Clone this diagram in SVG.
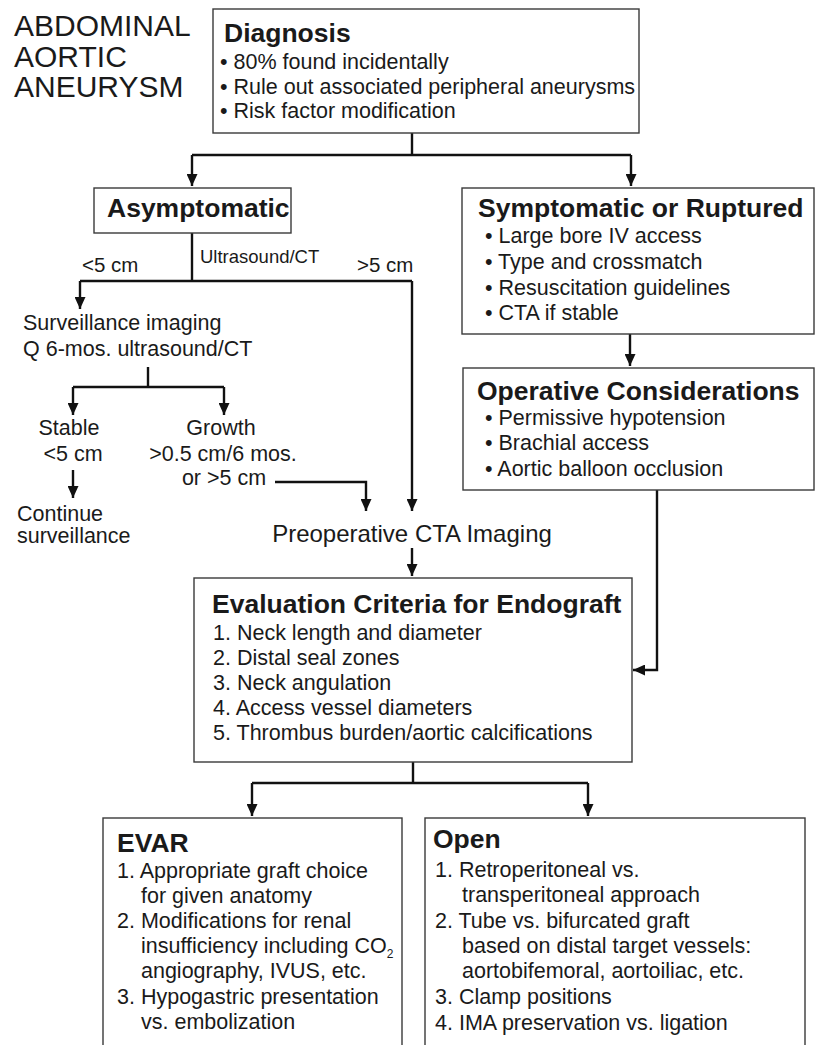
<svg xmlns="http://www.w3.org/2000/svg" width="816" height="1045" viewBox="0 0 816 1045">
  <defs>
    <marker id="arrow" markerUnits="userSpaceOnUse" markerWidth="12" markerHeight="11" viewBox="0 0 12 11" refX="12" refY="5.5" orient="auto">
      <path d="M0,0 L12,5.5 L0,11 z" fill="#111"/>
    </marker>
    <style>
      text { font-family: "Liberation Sans", Arial, Helvetica, sans-serif; fill: #1a1a1a; }
      .box { fill: #fff; stroke: #3a3a3a; stroke-width: 1.4; }
      .hd { font-weight: bold; font-size: 26.5px; }
      .tx { font-size: 21.5px; }
      .sm { font-size: 18.5px; }
      .lb { font-size: 20.5px; }
      .ttl { font-size: 30px; }
      .ln { fill: none; stroke: #111; stroke-width: 2.4; }
      .ar { fill: none; stroke: #111; stroke-width: 2.4; marker-end: url(#arrow); }
    </style>
  </defs>
  <rect width="816" height="1045" fill="#fff"/>

  <!-- heading -->
  <g id="title">
    <text class="ttl" x="14" y="36">ABDOMINAL</text>
    <text class="ttl" x="14" y="67">AORTIC</text>
    <text class="ttl" x="14" y="97">ANEURYSM</text>
  </g>

  <!-- connectors -->
  <g id="connectors">
    <!-- diagnosis split -->
    <polyline class="ln" points="412,133 412,155"/>
    <polyline class="ar" points="192,155 192,186"/>
    <polyline class="ln" points="192,155 631,155"/>
    <polyline class="ar" points="631,155 631,186"/>
    <!-- asymptomatic split -->
    <polyline class="ln" points="192,233 192,281"/>
    <polyline class="ln" points="80,281 412,281"/>
    <polyline class="ar" points="80,281 80,309"/>
    <polyline class="ar" points="412,281 412,511"/>
    <!-- surveillance split -->
    <polyline class="ln" points="148,367 148,387"/>
    <polyline class="ln" points="73,387 224,387"/>
    <polyline class="ar" points="73,387 73,415"/>
    <polyline class="ar" points="224,387 224,415"/>
    <polyline class="ar" points="73,470 73,498"/>
    <polyline class="ar" points="275,482 366,482 366,511"/>
    <!-- imaging to criteria -->
    <polyline class="ar" points="412,548 412,576"/>
    <!-- symptomatic chain -->
    <polyline class="ar" points="630,334 630,366"/>
    <polyline class="ar" points="657,490 657,670 633,670"/>
    <!-- criteria split -->
    <polyline class="ln" points="413,762 413,783"/>
    <polyline class="ln" points="252,783 588,783"/>
    <polyline class="ar" points="252,783 252,816"/>
    <polyline class="ar" points="588,783 588,816"/>
  </g>

  <g id="diagnosis">
    <rect class="box" x="213" y="9" width="426" height="124"/>
    <text class="hd" x="224" y="42">Diagnosis</text>
    <text class="tx" x="220" y="69">• 80% found incidentally</text>
    <text class="tx" x="220" y="94">• Rule out associated peripheral aneurysms</text>
    <text class="tx" x="220" y="118">• Risk factor modification</text>
  </g>

  <g id="asymptomatic">
    <rect class="box" x="94" y="188" width="197" height="45"/>
    <text class="hd" x="107" y="217">Asymptomatic</text>
  </g>

  <g id="branch-labels">
    <text class="lb" x="82" y="272">&lt;5 cm</text>
    <text class="sm" x="200" y="263">Ultrasound/CT</text>
    <text class="lb" x="357" y="272">&gt;5 cm</text>
  </g>

  <g id="surveillance">
    <text class="tx" x="23" y="330">Surveillance imaging</text>
    <text class="tx" x="23" y="356">Q 6-mos. ultrasound/CT</text>
  </g>

  <g id="stable">
    <text class="tx" x="69" y="435" text-anchor="middle">Stable</text>
    <text class="tx" x="73" y="461" text-anchor="middle">&lt;5 cm</text>
  </g>

  <g id="growth">
    <text class="tx" x="221" y="435" text-anchor="middle">Growth</text>
    <text class="tx" x="223" y="461" text-anchor="middle">&gt;0.5 cm/6 mos.</text>
    <text class="tx" x="224" y="485" text-anchor="middle">or &gt;5 cm</text>
  </g>

  <g id="continue">
    <text class="tx" x="17" y="521">Continue</text>
    <text class="tx" x="17" y="543">surveillance</text>
  </g>

  <g id="symptomatic">
    <rect class="box" x="462" y="188" width="352" height="146"/>
    <text class="hd" x="478" y="217">Symptomatic or Ruptured</text>
    <text class="tx" x="485" y="243">• Large bore IV access</text>
    <text class="tx" x="485" y="269">• Type and crossmatch</text>
    <text class="tx" x="485" y="295">• Resuscitation guidelines</text>
    <text class="tx" x="485" y="320">• CTA if stable</text>
  </g>

  <g id="operative">
    <rect class="box" x="463" y="368" width="351" height="122"/>
    <text class="hd" x="477" y="400">Operative Considerations</text>
    <text class="tx" x="485" y="425">• Permissive hypotension</text>
    <text class="tx" x="485" y="450">• Brachial access</text>
    <text class="tx" x="485" y="476">• Aortic balloon occlusion</text>
  </g>

  <g id="preoperative">
    <text x="412" y="542" text-anchor="middle" font-size="24">Preoperative CTA Imaging</text>
  </g>

  <g id="criteria">
    <rect class="box" x="194" y="578" width="438" height="184"/>
    <text class="hd" x="212" y="613">Evaluation Criteria for Endograft</text>
    <text class="tx" x="213" y="640">1. Neck length and diameter</text>
    <text class="tx" x="213" y="665">2. Distal seal zones</text>
    <text class="tx" x="213" y="690">3. Neck angulation</text>
    <text class="tx" x="213" y="715">4. Access vessel diameters</text>
    <text class="tx" x="213" y="740">5. Thrombus burden/aortic calcifications</text>
  </g>

  <g id="evar">
    <rect class="box" x="103" y="818" width="299" height="260"/>
    <text class="hd" x="117" y="852">EVAR</text>
    <text class="tx" x="117" y="878">1. Appropriate graft choice</text>
    <text class="tx" x="141" y="903">for given anatomy</text>
    <text class="tx" x="117" y="928">2. Modifications for renal</text>
    <text class="tx" x="141" y="953">insufficiency including CO<tspan font-size="12" dy="5">2</tspan></text>
    <text class="tx" x="141" y="978">angiography, IVUS, etc.</text>
    <text class="tx" x="117" y="1004">3. Hypogastric presentation</text>
    <text class="tx" x="141" y="1029">vs. embolization</text>
  </g>

  <g id="open">
    <rect class="box" x="425" y="818" width="380" height="260"/>
    <text class="hd" x="433" y="848">Open</text>
    <text class="tx" x="435" y="877">1. Retroperitoneal vs.</text>
    <text class="tx" x="462" y="902">transperitoneal approach</text>
    <text class="tx" x="435" y="928">2. Tube vs. bifurcated graft</text>
    <text class="tx" x="462" y="953">based on distal target vessels:</text>
    <text class="tx" x="462" y="978">aortobifemoral, aortoiliac, etc.</text>
    <text class="tx" x="435" y="1004">3. Clamp positions</text>
    <text class="tx" x="435" y="1030">4. IMA preservation vs. ligation</text>
  </g>
</svg>
